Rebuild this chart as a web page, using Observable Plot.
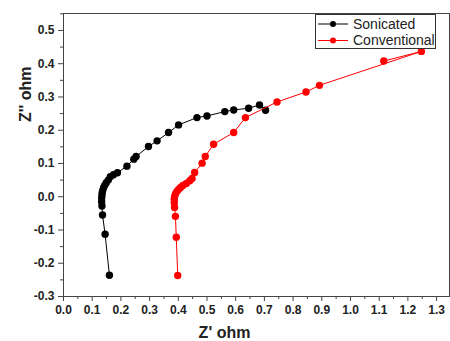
<!DOCTYPE html>
<html>
<head>
<meta charset="utf-8">
<script src="https://cdn.jsdelivr.net/npm/d3@7"></script>
<script src="https://cdn.jsdelivr.net/npm/@observablehq/plot@0.6"></script>
<style>
  html, body { margin: 0; padding: 0; background: #fff; }
  #wrap { position: relative; width: 450px; height: 341px; }
  #legend { position: absolute; left: 315px; top: 14px; }
</style>
</head>
<body>
<div id="wrap"></div>
<script>
// ---- data ----
const seriesNames = ["Sonicated", "Conventional"];
const seriesColors = ["#000000", "#ff0000"];

const sonicatedX = [0.160, 0.145, 0.136, 0.134, 0.133, 0.133, 0.134, 0.135, 0.137, 0.140, 0.144, 0.149, 0.156, 0.163, 0.174, 0.188, 0.221, 0.245, 0.253, 0.296, 0.326, 0.366, 0.401, 0.465, 0.500, 0.562, 0.593, 0.645, 0.683, 0.704];
const sonicatedY = [-0.236, -0.113, -0.055, -0.028, -0.015, -0.004, 0.005, 0.013, 0.020, 0.028, 0.035, 0.042, 0.050, 0.060, 0.066, 0.072, 0.092, 0.113, 0.121, 0.151, 0.168, 0.193, 0.216, 0.238, 0.243, 0.256, 0.261, 0.266, 0.276, 0.260];

const conventionalX = [0.398, 0.393, 0.390, 0.387, 0.386, 0.386, 0.387, 0.390, 0.395, 0.401, 0.408, 0.416, 0.428, 0.440, 0.448, 0.457, 0.483, 0.494, 0.523, 0.593, 0.634, 0.744, 0.845, 0.892, 1.247, 1.116];
const conventionalY = [-0.237, -0.122, -0.059, -0.032, -0.018, -0.008, 0.000, 0.008, 0.016, 0.022, 0.028, 0.034, 0.040, 0.048, 0.055, 0.073, 0.101, 0.121, 0.158, 0.193, 0.238, 0.285, 0.315, 0.335, 0.437, 0.408];

const xTickLabels = ["0.0","0.1","0.2","0.3","0.4","0.5","0.6","0.7","0.8","0.9","1.0","1.1","1.2","1.3"];
const yTickLabels = ["-0.3","-0.2","-0.1","0.0","0.1","0.2","0.3","0.4","0.5"];
const xLabel = "Z' ohm";
const yLabel = "Z'' ohm";

// ---- build ----
const xTicks = xTickLabels.map(Number);
const yTicks = yTickLabels.map(Number);
const xMinor = xTicks.map(v => v + 0.05);
const yMinor = yTicks.map(v => v + 0.05);

const sonicated = sonicatedX.map((x, i) => ({x, y: sonicatedY[i]}));
const conventional = conventionalX.map((x, i) => ({x, y: conventionalY[i]}));

const axisColor = "#444";
const chart = Plot.plot({
  width: 450,
  height: 341,
  marginLeft: 63,
  marginRight: 1,
  marginTop: 13,
  marginBottom: 45,
  x: {domain: [0, 1.345]},
  y: {domain: [-0.3, 0.551]},
  style: {fontFamily: "'Liberation Sans', Arial, sans-serif", fontSize: "12px", fontWeight: "bold", color: "#222", background: "#fff"},
  marks: [
    Plot.frame({stroke: axisColor, strokeWidth: 1}),
    Plot.axisX({ticks: xTicks, tickSize: 5, tickPadding: 4, tickFormat: d => d.toFixed(1), label: null, stroke: axisColor}),
    Plot.axisX({ticks: xMinor, tickSize: 3, tickFormat: () => "", label: null, stroke: axisColor}),
    Plot.axisY({ticks: yTicks, tickSize: 5, tickPadding: 4, tickFormat: d => d.toFixed(1), label: null, stroke: axisColor}),
    Plot.axisY({ticks: yMinor, tickSize: 3, tickFormat: () => "", label: null, stroke: axisColor}),
    Plot.line(sonicated, {x: "x", y: "y", stroke: seriesColors[0], strokeWidth: 1}),
    Plot.dot(sonicated, {x: "x", y: "y", fill: seriesColors[0], r: 3.7}),
    Plot.line(conventional, {x: "x", y: "y", stroke: seriesColors[1], strokeWidth: 1}),
    Plot.dot(conventional, {x: "x", y: "y", fill: seriesColors[1], r: 3.7}),
    Plot.text([xLabel], {frameAnchor: "bottom", text: d => d, dx: -32, dy: 36, fontSize: 16, fontWeight: "bold", lineAnchor: "middle", fill: "#222"}),
    Plot.text([yLabel], {frameAnchor: "left", text: d => d, dx: -38, dy: -33, rotate: -90, fontSize: 16, fontWeight: "bold", lineAnchor: "middle", fill: "#222"})
  ]
});
document.getElementById("wrap").appendChild(chart);

// legend (inside plot, top-right)
const lw = 121, lh = 35;
const leg = d3.select("#wrap").append("div").attr("id", "legend")
  .append("svg").attr("width", lw).attr("height", lh)
  .style("font-family", "'Liberation Sans', Arial, sans-serif");
leg.append("rect").attr("x", 0.5).attr("y", 0.5).attr("width", lw - 1).attr("height", lh - 1)
  .attr("fill", "#fff").attr("stroke", "#333");
seriesNames.forEach((name, i) => {
  const cy = 10 + i * 16.5;
  leg.append("line").attr("x1", 3).attr("x2", 33).attr("y1", cy).attr("y2", cy)
    .attr("stroke", seriesColors[i]).attr("stroke-width", 1);
  leg.append("circle").attr("cx", 18).attr("cy", cy).attr("r", 3).attr("fill", seriesColors[i]);
  leg.append("text").attr("x", 38).attr("y", cy).attr("dy", "0.35em")
    .attr("font-size", 14).attr("fill", "#222").text(name);
});
</script>
</body>
</html>
